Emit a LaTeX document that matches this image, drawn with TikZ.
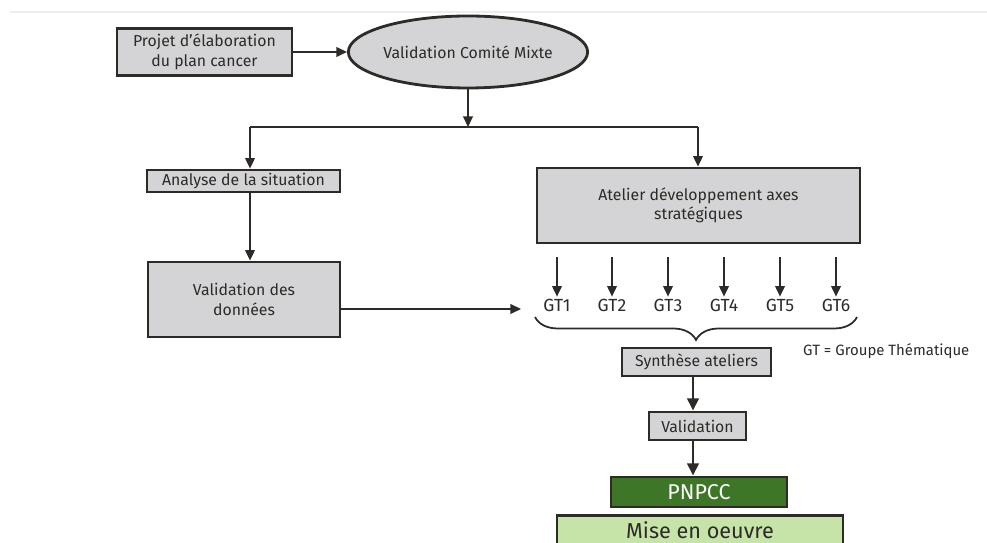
\documentclass[tikz,border=0pt]{standalone}
\usepackage{fontspec}
\setmainfont{Fira Sans}
\usetikzlibrary{arrows.meta,shapes.geometric,decorations.pathreplacing}

\definecolor{boxgray}{RGB}{212,212,214}
\definecolor{inkgray}{RGB}{45,42,40}
\definecolor{pnpccgreen}{RGB}{62,118,40}
\definecolor{oeuvregreen}{RGB}{198,228,168}

\tikzset{
  graybox/.style={draw=inkgray, line width=1.6pt, fill=boxgray, align=center,
    text=inkgray, font=\fontsize{9}{11}\selectfont, inner sep=0pt},
  thinarrow/.style={draw=inkgray, line width=0.9pt, -{Triangle[length=6pt,width=5.5pt]}},
  thickarrow/.style={draw=inkgray, line width=1.6pt, -{Triangle[length=7pt,width=6.5pt]}},
  gtlabel/.style={text=inkgray, font=\fontsize{10}{12}\selectfont, inner sep=1pt}
}

\begin{document}
\begin{tikzpicture}[x=0.02cm, y=-0.02cm]
        \clip (0,0) rectangle (987,543);
        \useasboundingbox (0,0) rectangle (987,543);
        \draw[black!7, line width=0.6pt] (10,12) -- (987,12);

        % top row
        \node[graybox, minimum width=3.5cm, minimum height=0.94cm] (projet) at (204.5,52) {Projet d'élaboration\\du plan cancer};
        \node[graybox, ellipse, minimum width=4.55cm, minimum height=1.44cm] (comite) at (468,52) {Validation Comité Mixte};
        \draw[thinarrow] (projet) -- (comite);

        % split
        \coordinate (split) at (468,127);
        \coordinate (splitL) at (250,127);
        \coordinate (splitR) at (698,127);
        \draw[thinarrow] (comite) -- (split);
        \draw[draw=inkgray, line width=0.9pt] (splitL) -- (splitR);

        % left branch
        \node[graybox, minimum width=3.86cm, minimum height=0.44cm] (analyse) at (243.5,181) {Analyse de la situation};
        \node[graybox, minimum width=3.84cm, minimum height=1.5cm] (donnees) at (244,299.5) {Validation des\\données};
        \draw[thinarrow] (splitL) -- (splitL |- analyse.north);
        \draw[thinarrow] (analyse.south -| splitL) -- (donnees.north -| splitL);

        % right branch
        \node[graybox, minimum width=6.46cm, minimum height=1.5cm] (atelier) at (698.5,205.5) {Atelier développement axes\\stratégiques};
        \draw[thinarrow] (splitR) -- (atelier.north -| splitR);

        \foreach \i/\x in {1/557, 2/612, 3/668, 4/724, 5/780, 6/836} {
          \node[gtlabel] (gt\i) at (\x,305) {GT\i};
          \coordinate (gttop\i) at (\x,257);
          \draw[thinarrow] (gttop\i) -- (gt\i.north);
        }
        \coordinate (gtin) at (521,309);
        \draw[thinarrow] (donnees.east |- gtin) -- (gtin);

        \coordinate (braceL) at (535,317);
        \coordinate (braceR) at (857,317);
        \draw[draw=inkgray, line width=1pt, decorate, decoration={brace, mirror, amplitude=0.46cm, aspect=0.5}] (braceL) -- (braceR);
        \node[gtlabel, font=\fontsize{8.5}{10}\selectfont, anchor=west] (legende) at (801,351) {GT = Groupe Thématique};

        % bottom column
        \coordinate (colx) at (693,0);
        \node[graybox, minimum width=2.98cm, minimum height=0.56cm] (synthese) at (696.5,362) {Synthèse ateliers};
        \node[graybox, minimum width=1.94cm, minimum height=0.56cm] (validation) at (697.5,426) {Validation};
        \node[graybox, fill=pnpccgreen, text=white, font=\fontsize{12.2}{14}\selectfont, minimum width=3.52cm, minimum height=0.6cm] (pnpcc) at (699,492) {PNPCC};
        \node[graybox, fill=oeuvregreen, font=\fontsize{12.3}{14}\selectfont, minimum width=5.72cm, inner ysep=3.5pt, anchor=north] (oeuvre) at (700,514) {Mise en oeuvre};
        \draw[thickarrow] (synthese.south -| colx) -- (validation.north -| colx);
        \draw[thickarrow] (validation.south -| colx) -- (pnpcc.north -| colx);
      \end{tikzpicture}
\end{document}
